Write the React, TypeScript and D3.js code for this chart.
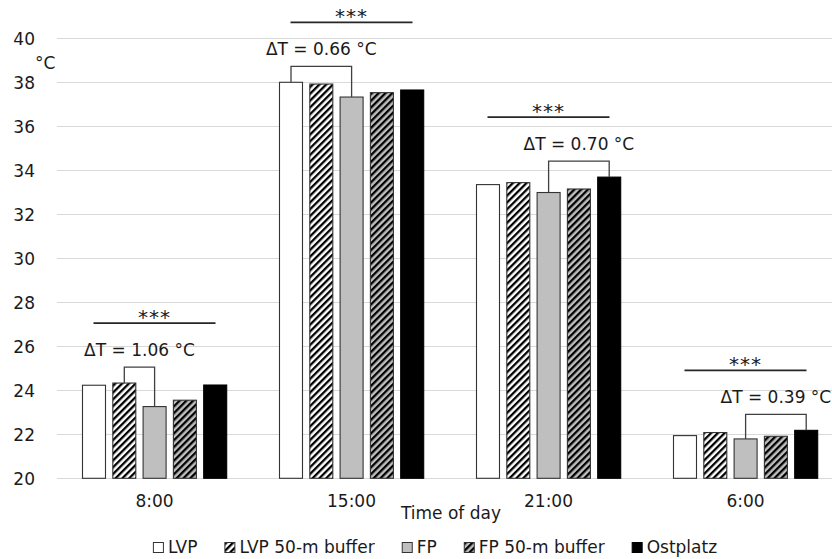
import { useEffect, useRef } from 'react';
import * as d3 from 'd3';

// time of day categories
const times = ['8:00', '15:00', '21:00', '6:00'];
const seriesNames = ['LVP', 'LVP 50-m buffer', 'FP', 'FP 50-m buffer', 'Ostplatz'];

// mean temperature, °C
const lvp = [24.23, 38.0, 33.35, 21.94];
const lvpBuffer = [24.33, 37.92, 33.44, 22.08];
const fp = [23.26, 37.33, 32.99, 21.79];
const fpBuffer = [23.55, 37.53, 33.15, 21.91];
const ostplatz = [24.24, 37.65, 33.69, 22.18];

const yTicks = [20, 22, 24, 26, 28, 30, 32, 34, 36, 38, 40];

// max difference brackets per time
const deltaLabels = ['ΔT = 1.06 °C', 'ΔT = 0.66 °C', 'ΔT = 0.70 °C', 'ΔT = 0.39 °C'];
const deltaFrom = ['LVP 50-m buffer', 'LVP', 'FP', 'FP'];
const deltaTo = ['FP', 'FP', 'Ostplatz', 'Ostplatz'];
const significance = ['***', '***', '***', '***'];

const FONT = '"DejaVu Sans", sans-serif';
const TEXT = '#1a1a1a';

export default function App() {
  const svgRef = useRef<SVGSVGElement | null>(null);

  useEffect(() => {
    if (!svgRef.current) return;
    const width = 832;
    const height = 559;
    const values = [lvp, lvpBuffer, fp, fpBuffer, ostplatz];
    const fills = ['#ffffff', 'url(#hatchWhite)', '#bfbfbf', 'url(#hatchGray)', '#000000'];
    const strokes = ['#333333', '#333333', '#333333', '#333333', '#000000'];

    const svg = d3.select(svgRef.current)
      .attr('width', width)
      .attr('height', height)
      .style('font-family', FONT);
    svg.selectAll('*').remove();

    // hatch patterns
    const defs = svg.append('defs');
    [['hatchWhite', '#ffffff'], ['hatchGray', '#bfbfbf']].forEach(([id, bg]) => {
      const p = defs.append('pattern')
        .attr('id', id)
        .attr('patternUnits', 'userSpaceOnUse')
        .attr('width', 4.8)
        .attr('height', 4.8)
        .attr('patternTransform', 'rotate(45)');
      p.append('rect').attr('width', 4.8).attr('height', 4.8).attr('fill', bg);
      p.append('rect').attr('x', 0).attr('width', 2.3).attr('height', 4.8).attr('fill', '#000');
    });

    const x0 = d3.scaleBand().domain(times).range([56, 844]);
    const x1 = d3.scaleBand().domain(seriesNames).range([26, 171.2]).paddingInner(0.208);
    const y = d3.scaleLinear().domain([20, 40]).range([478.3, 38.3]);
    const bw = x1.bandwidth();

    // gridlines
    svg.append('g')
      .selectAll('line')
      .data(yTicks)
      .enter()
      .append('line')
      .attr('x1', 57)
      .attr('x2', width)
      .attr('y1', d => Math.round(y(d)) + 0.5)
      .attr('y2', d => Math.round(y(d)) + 0.5)
      .attr('stroke', '#d9d9d9')
      .attr('stroke-width', 1);

    // y tick labels
    svg.append('g')
      .selectAll('text')
      .data(yTicks)
      .enter()
      .append('text')
      .attr('x', 35)
      .attr('y', d => y(d) + 1)
      .attr('dy', '0.35em')
      .attr('text-anchor', 'end')
      .attr('font-size', 17)
      .attr('fill', TEXT)
      .text(d => d);

    svg.append('text')
      .attr('x', 35)
      .attr('y', 69)
      .attr('font-size', 17)
      .attr('fill', TEXT)
      .text('°C');

    // bars
    const groups = svg.append('g')
      .selectAll('g')
      .data(times)
      .enter()
      .append('g')
      .attr('transform', d => `translate(${x0(d)},0)`);

    groups.selectAll('rect')
      .data((t, gi) => seriesNames.map((s, si) => ({ s, si, v: values[si][gi] })))
      .enter()
      .append('rect')
      .attr('x', d => (x1(d.s) as number) + 0.5)
      .attr('y', d => y(d.v))
      .attr('width', bw - 1)
      .attr('height', d => y(20) - y(d.v))
      .attr('fill', d => fills[d.si])
      .attr('stroke', d => strokes[d.si])
      .attr('stroke-width', 1.1);

    // brackets, ΔT labels and significance lines
    times.forEach((t, gi) => {
      const ia = seriesNames.indexOf(deltaFrom[gi]);
      const ib = seriesNames.indexOf(deltaTo[gi]);
      const va = values[ia][gi];
      const vb = values[ib][gi];
      const gx = x0(t) as number;
      const a = gx + (x1(deltaFrom[gi]) as number) + bw / 2;
      const b = gx + (x1(deltaTo[gi]) as number) + bw / 2;
      const top = y(Math.max(va, vb)) - 16;

      svg.append('path')
        .attr('d', `M${a},${y(va)}V${top}H${b}V${y(vb)}`)
        .attr('fill', 'none')
        .attr('stroke', '#404040')
        .attr('stroke-width', 1.3);

      svg.append('text')
        .attr('x', (a + b) / 2)
        .attr('y', top - 11)
        .attr('text-anchor', 'middle')
        .attr('font-size', 17)
        .attr('fill', TEXT)
        .text(deltaLabels[gi]);

      const cx = gx + x0.bandwidth() / 2;
      const ly = top - 44;
      svg.append('line')
        .attr('x1', cx - 61)
        .attr('x2', cx + 61)
        .attr('y1', ly)
        .attr('y2', ly)
        .attr('stroke', '#262626')
        .attr('stroke-width', 1.7);

      svg.append('text')
        .attr('x', cx)
        .attr('y', ly + 1)
        .attr('text-anchor', 'middle')
        .attr('font-size', 20)
        .attr('letter-spacing', 1)
        .attr('fill', TEXT)
        .text(significance[gi]);
    });

    // x tick labels
    svg.append('g')
      .selectAll('text')
      .data(times)
      .enter()
      .append('text')
      .attr('x', d => (x0(d) as number) + x0.bandwidth() / 2)
      .attr('y', 507)
      .attr('text-anchor', 'middle')
      .attr('font-size', 17)
      .attr('fill', TEXT)
      .text(d => d);

    svg.append('text')
      .attr('x', 451)
      .attr('y', 519)
      .attr('text-anchor', 'middle')
      .attr('font-size', 17)
      .attr('fill', TEXT)
      .text('Time of day');

    // legend, laid out from measured text widths
    const legend = svg.append('g');
    let cursor = 0;
    seriesNames.forEach((name, i) => {
      const item = legend.append('g').attr('transform', `translate(${cursor},0)`);
      item.append('rect')
        .attr('x', 0.5)
        .attr('y', 542.5)
        .attr('width', 10)
        .attr('height', 10)
        .attr('fill', fills[i])
        .attr('stroke', strokes[i]);
      const txt = item.append('text')
        .attr('x', 15)
        .attr('y', 553)
        .attr('font-size', 17)
        .attr('fill', TEXT)
        .text(name);
      const w = (txt.node() as SVGTextElement).getComputedTextLength();
      cursor += 15 + w + 27;
    });
    const total = cursor - 27;
    legend.attr('transform', `translate(${435 - total / 2},0)`);
  }, []);

  return (
    <svg ref={svgRef} style={{ position: 'absolute', left: 0, top: 0, background: '#fff' }} />
  );
}
